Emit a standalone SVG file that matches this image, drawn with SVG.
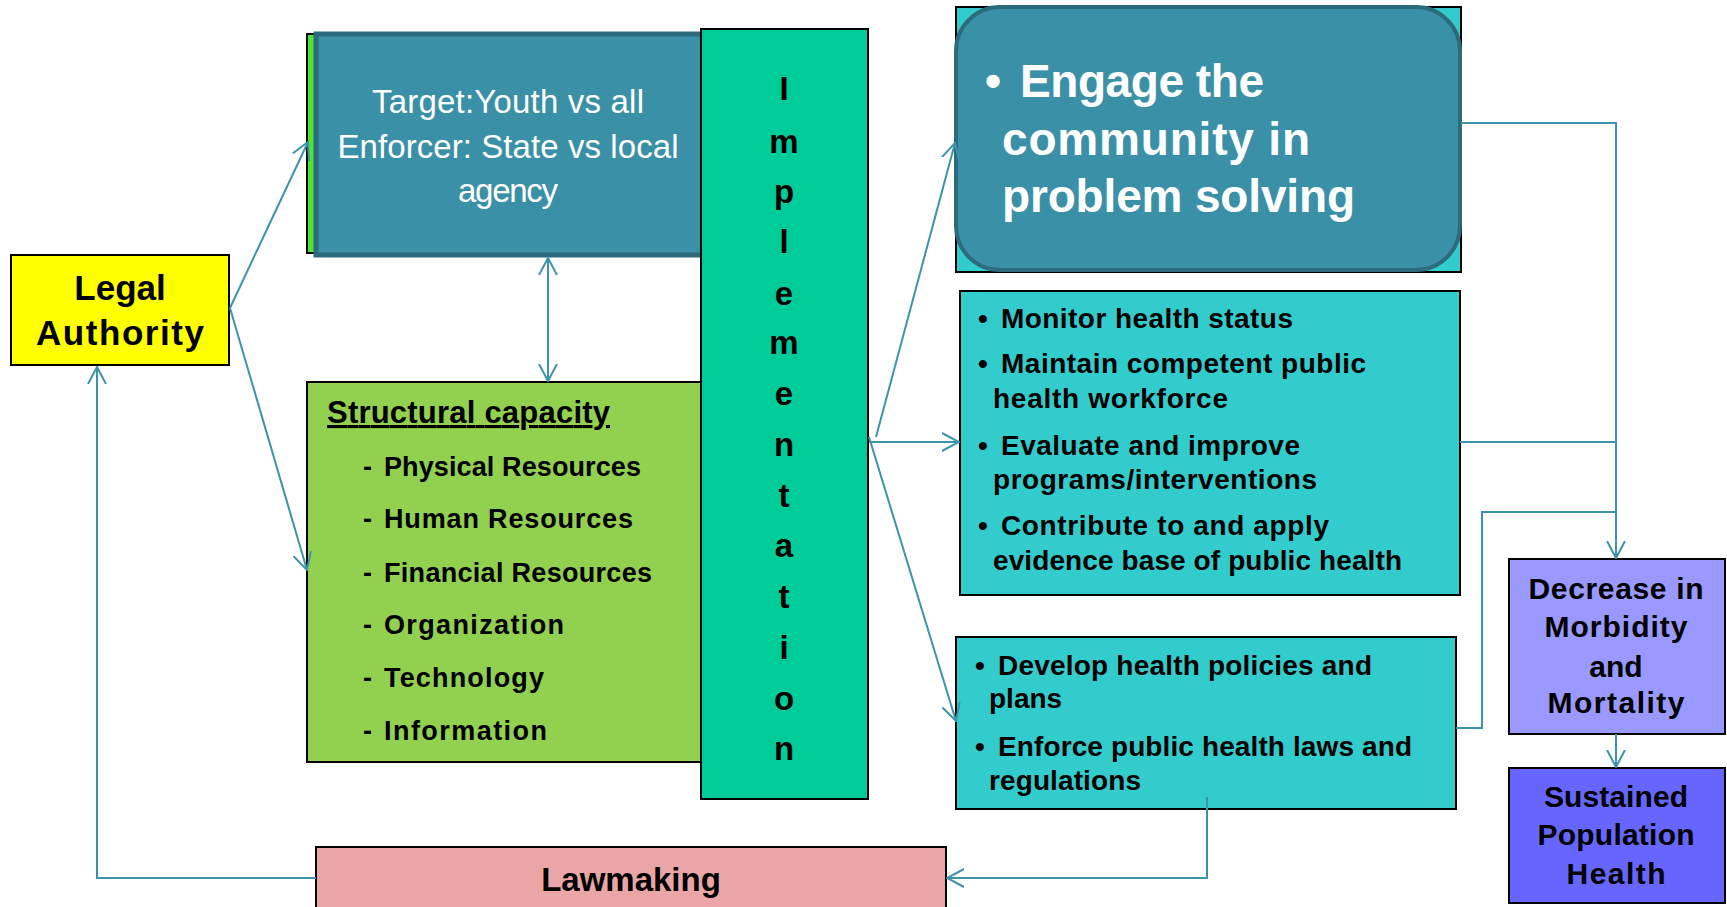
<svg xmlns="http://www.w3.org/2000/svg" width="1727" height="907" viewBox="0 0 1727 907">
<style>
  .b { font-family: "Liberation Sans", Arial, sans-serif; font-weight: bold; fill: #000; }
  .w { font-family: "Liberation Sans", Arial, sans-serif; fill: #fff; }
  .c { text-anchor: middle; }
  .box { stroke: #000; stroke-width: 2; }
  .con { fill: none; stroke: #3D93AB; stroke-width: 2; }
</style>
<defs>
  <marker id="arr" viewBox="0 0 18 20" markerWidth="18" markerHeight="20" refX="17" refY="10" orient="auto-start-reverse" markerUnits="userSpaceOnUse">
    <path d="M0,1 L17,10 L0,19" fill="none" stroke="#3D93AB" stroke-width="2"/>
  </marker>
</defs>
<rect width="1727" height="907" fill="#fff"/>

<g id="legal-authority">
  <rect class="box" x="11" y="255" width="218" height="110" fill="#FFFF00"/>
  <text class="b c" x="120" y="300" font-size="35">Legal</text>
  <text class="b c" x="120" y="345" font-size="35" textLength="168">Authority</text>
</g>

<g id="target">
  <rect x="307" y="34" width="20" height="219" fill="#4CE632" stroke="#000" stroke-width="2"/>
  <rect x="316" y="34" width="390" height="221" fill="#3A90A6" stroke="#2C6B7C" stroke-width="5"/>
  <text class="w c" x="508" y="113" font-size="33" textLength="272">Target:Youth vs all</text>
  <text class="w c" x="508" y="158" font-size="33" textLength="341">Enforcer: State vs local</text>
  <text class="w c" x="508" y="202" font-size="33" textLength="100">agency</text>
</g>

<g id="structural-capacity">
  <rect class="box" x="307" y="382" width="400" height="380" fill="#92D050"/>
  <text class="b" x="327" y="423" font-size="31" textLength="283" text-decoration="underline">Structural capacity</text>
  <g font-size="27">
    <text class="b" x="363" y="476">-</text><text class="b" x="384" y="476" textLength="257">Physical Resources</text>
    <text class="b" x="363" y="528">-</text><text class="b" x="384" y="528" textLength="249">Human Resources</text>
    <text class="b" x="363" y="582">-</text><text class="b" x="384" y="582" textLength="268">Financial Resources</text>
    <text class="b" x="363" y="634">-</text><text class="b" x="384" y="634" textLength="180">Organization</text>
    <text class="b" x="363" y="687">-</text><text class="b" x="384" y="687" textLength="160">Technology</text>
    <text class="b" x="363" y="740">-</text><text class="b" x="384" y="740" textLength="163">Information</text>
  </g>
</g>

<g id="implementation">
  <rect class="box" x="701" y="29" width="167" height="770" fill="#00CC99"/>
  <g font-size="33">
    <text class="b c" x="784" y="100">I</text>
    <text class="b c" x="784" y="153">m</text>
    <text class="b c" x="784" y="203">p</text>
    <text class="b c" x="784" y="253">l</text>
    <text class="b c" x="784" y="305">e</text>
    <text class="b c" x="784" y="354">m</text>
    <text class="b c" x="784" y="405">e</text>
    <text class="b c" x="784" y="456">n</text>
    <text class="b c" x="784" y="507">t</text>
    <text class="b c" x="784" y="557">a</text>
    <text class="b c" x="784" y="608">t</text>
    <text class="b c" x="784" y="659">i</text>
    <text class="b c" x="784" y="710">o</text>
    <text class="b c" x="784" y="760">n</text>
  </g>
</g>

<g id="engage">
  <rect class="box" x="956" y="7" width="505" height="265" fill="#33CCCC"/>
  <rect x="956" y="7" width="504" height="263" rx="44" ry="44" fill="#3A90A6" stroke="#2C6B7C" stroke-width="4"/>
  <g font-size="46">
    <text class="w" x="985" y="97" font-weight="bold">•</text>
    <text class="w" x="1020" y="97" font-weight="bold" textLength="244">Engage the</text>
    <text class="w" x="1002" y="155" font-weight="bold" textLength="308">community in</text>
    <text class="w" x="1002" y="212" font-weight="bold" textLength="353">problem solving</text>
  </g>
</g>

<g id="monitor">
  <rect class="box" x="960" y="291" width="500" height="304" fill="#33CCCC"/>
  <g font-size="28">
    <text class="b" x="978" y="328">•</text><text class="b" x="1001" y="328" textLength="292">Monitor health status</text>
    <text class="b" x="978" y="373">•</text><text class="b" x="1001" y="373" textLength="365">Maintain competent public</text>
    <text class="b" x="993" y="408" textLength="235">health workforce</text>
    <text class="b" x="978" y="455">•</text><text class="b" x="1001" y="455" textLength="299">Evaluate and improve</text>
    <text class="b" x="993" y="489" textLength="324">programs/interventions</text>
    <text class="b" x="978" y="535">•</text><text class="b" x="1001" y="535" textLength="328">Contribute to and apply</text>
    <text class="b" x="993" y="570" textLength="409">evidence base of public health</text>
  </g>
</g>

<g id="develop">
  <rect class="box" x="956" y="637" width="500" height="172" fill="#33CCCC"/>
  <g font-size="28">
    <text class="b" x="975" y="675">•</text><text class="b" x="998" y="675" textLength="374">Develop health policies and</text>
    <text class="b" x="989" y="708">plans</text>
    <text class="b" x="975" y="756">•</text><text class="b" x="998" y="756" textLength="414">Enforce public health laws and</text>
    <text class="b" x="989" y="790" textLength="152">regulations</text>
  </g>
</g>

<g id="decrease">
  <rect class="box" x="1509" y="559" width="216" height="175" fill="#9999FF"/>
  <g font-size="30">
    <text class="b c" x="1616" y="599" textLength="175">Decrease in</text>
    <text class="b c" x="1616" y="637" textLength="143">Morbidity</text>
    <text class="b c" x="1616" y="677">and</text>
    <text class="b c" x="1616" y="713" textLength="137">Mortality</text>
  </g>
</g>

<g id="sustained">
  <rect class="box" x="1509" y="768" width="216" height="135" fill="#6666FF"/>
  <g font-size="30">
    <text class="b c" x="1616" y="807" textLength="144">Sustained</text>
    <text class="b c" x="1616" y="845" textLength="157">Population</text>
    <text class="b c" x="1616" y="884" textLength="99">Health</text>
  </g>
</g>

<g id="lawmaking">
  <rect class="box" x="316" y="847" width="630" height="80" fill="#EAA6A6"/>
  <text class="b c" x="631" y="891" font-size="33">Lawmaking</text>
</g>

<g id="connectors">
  <path class="con" d="M230,308 L308,142" marker-end="url(#arr)"/>
  <path class="con" d="M230,308 L307,570" marker-end="url(#arr)"/>
  <path class="con" d="M548,258 L548,381" marker-start="url(#arr)" marker-end="url(#arr)"/>
  <path class="con" d="M876,437 L955,143" marker-end="url(#arr)"/>
  <path class="con" d="M869,442 L959,442" marker-end="url(#arr)"/>
  <path class="con" d="M869,437 L956,721" marker-end="url(#arr)"/>
  <path class="con" d="M1461,123 L1616,123 L1616,558" marker-end="url(#arr)"/>
  <path class="con" d="M1460,442 L1616,442"/>
  <path class="con" d="M1456,728 L1482,728 L1482,512 L1616,512"/>
  <path class="con" d="M1616,734 L1616,767" marker-end="url(#arr)"/>
  <path class="con" d="M1207,797 L1207,878 L947,878" marker-end="url(#arr)"/>
  <path class="con" d="M316,878 L97,878 L97,367" marker-end="url(#arr)"/>
</g>
</svg>
